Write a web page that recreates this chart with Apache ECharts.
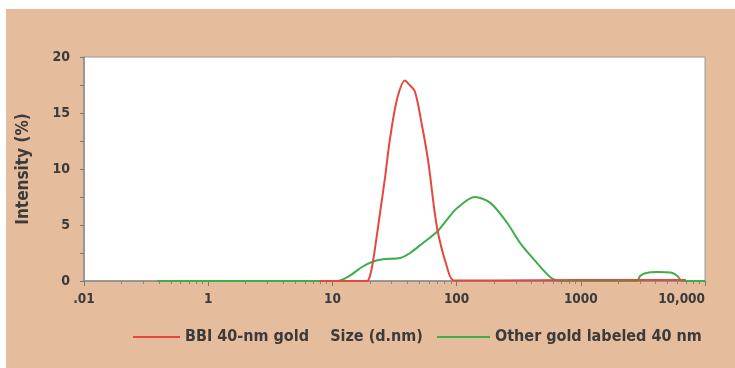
<!DOCTYPE html>
<html>
<head>
<meta charset="utf-8">
<script src="https://cdn.jsdelivr.net/npm/echarts@6/dist/echarts.min.js"></script>
<style>
html,body{margin:0;padding:0;background:#fff;}
#chart{width:735px;height:368px;}
</style>
</head>
<body>
<div id="chart"></div>
<script>
// ---- data ----
var xTickLabels = ['.01', '1', '10', '100', '1000', '10,000'];
var xTickValues = [0.1, 1, 10, 100, 1000, 10000];

var redSizes  = [7.9, 19, 20, 21.2, 24.2, 26.5, 29, 33.1, 38.4, 41, 46.2, 52, 58.9, 69.5, 83.7, 95, 200, 1000, 3000, 7000];
var redValues = [0,   0,  0.4, 1.7, 6.1,  9.2,  12.6, 16.2, 17.9, 17.6, 16.9, 14.2, 10.8, 4.8, 1.25, 0.05, 0.05, 0.1, 0.1, 0.1];

var greenSizes  = [0.39, 10.9, 13.9, 17.3, 20.8, 25.5, 35,   42.2, 53.6, 69.5, 85.3, 100.7, 140, 186, 255, 324, 444, 565,  643,  700, 2830, 3000, 3300, 4110, 5300, 6000, 6530, 10000];
var greenValues = [0,    0,    0.5,  1.25, 1.7,  1.95, 2.05, 2.5,  3.4,  4.4,  5.6,  6.5,   7.5, 7.0, 5.2, 3.4, 1.6, 0.36, 0.05, 0,   0,    0.45, 0.7,  0.8,  0.75, 0.45, 0,    0];

var seriesNames = ['BBI 40-nm gold', 'Other gold labeled 40 nm'];

function pairs(xs, ys) { return xs.map(function (x, i) { return [x, ys[i]]; }); }

var FONT = '"DejaVu Sans Condensed", "Liberation Sans Narrow", sans-serif';
var TXT = '#3b3b3b';

var chart = echarts.init(document.getElementById('chart'), null, {renderer: 'canvas'});
chart.setOption({
  backgroundColor: '#ffffff',
  animation: false,
  graphic: [{
    type: 'rect', z: -10, silent: true,
    shape: {x: 6, y: 9, width: 735, height: 368},
    style: {fill: '#E5BC9C'}
  }],
  grid: {
    left: 84, right: 30, top: 57, bottom: 87,
    show: true, backgroundColor: '#ffffff', borderColor: '#9a9a9a', borderWidth: 1
  },
  legend: [{
    data: [seriesNames[0]],
    left: 128, top: 324,
    icon: 'rect', itemWidth: 47, itemHeight: 2,
    textStyle: {fontFamily: FONT, fontWeight: 'bold', fontSize: 16, color: TXT}
  }, {
    data: [seriesNames[1]],
    left: 432, top: 324,
    icon: 'rect', itemWidth: 53, itemHeight: 2, itemGap: 0,
    textStyle: {fontFamily: FONT, fontWeight: 'bold', fontSize: 16, color: TXT}
  }],
  xAxis: {
    type: 'log', logBase: 10, min: 0.1, max: 10000,
    name: 'Size (d.nm)', nameLocation: 'middle', nameGap: 48,
    nameTextStyle: {fontFamily: FONT, fontWeight: 'bold', fontSize: 16, color: TXT, padding: [0, 36, 0, 0]},
    axisLine: {lineStyle: {color: '#8a8a8a', width: 1.5}},
    axisTick: {show: true, length: 5, lineStyle: {color: '#777'}},
    minorTick: {show: true, splitNumber: 9, length: 3, lineStyle: {color: '#888'}},
    splitLine: {show: false},
    axisLabel: {
      fontFamily: FONT, fontWeight: 'bold', fontSize: 13.5, color: TXT, margin: 11,
      alignMaxLabel: 'right',
      formatter: function (v) {
        var i = xTickValues.findIndex(function (t) { return Math.abs(Math.log10(t) - Math.log10(v)) < 1e-6; });
        return i >= 0 ? xTickLabels[i] : '';
      }
    }
  },
  yAxis: {
    type: 'value', min: 0, max: 20, interval: 2.5,
    name: 'Intensity (%)', nameLocation: 'middle', nameGap: 52,
    nameTextStyle: {fontFamily: FONT, fontWeight: 'bold', fontSize: 17, color: TXT},
    axisLine: {show: true, lineStyle: {color: '#8a8a8a', width: 1.5}},
    axisTick: {show: true, length: 4, lineStyle: {color: '#777'}},
    splitLine: {show: false},
    axisLabel: {
      fontFamily: FONT, fontWeight: 'bold', fontSize: 14, color: TXT, margin: 14,
      formatter: function (v) { return (v % 5 === 0) ? String(v) : ''; }
    }
  },
  series: [{
    name: seriesNames[0], type: 'line', data: pairs(redSizes, redValues),
    smooth: 0.3, showSymbol: false, symbol: 'none',
    lineStyle: {color: '#E2483F', width: 2}, itemStyle: {color: '#E2483F'}, z: 3
  }, {
    name: seriesNames[1], type: 'line', data: pairs(greenSizes, greenValues),
    smooth: 0.3, showSymbol: false, symbol: 'none',
    lineStyle: {color: '#3FAE4A', width: 2}, itemStyle: {color: '#3FAE4A'}, z: 2
  }]
});
</script>
</body>
</html>
